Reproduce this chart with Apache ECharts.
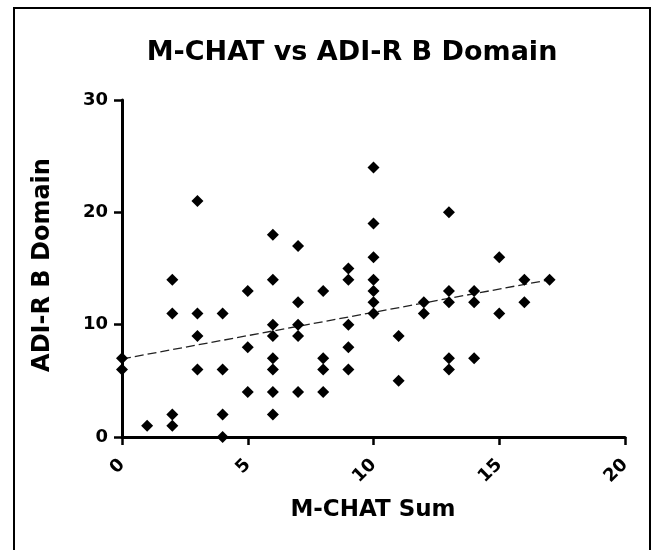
<!DOCTYPE html>
<html>
<head>
<meta charset="utf-8">
<script src="https://cdn.jsdelivr.net/npm/echarts@6/dist/echarts.min.js"></script>
<style>
  html, body { margin: 0; padding: 0; background: #fff; }
  #chart { width: 655px; height: 550px; }
</style>
</head>
<body>
<div id="chart"></div>
<script>
// 資料：M-CHAT 總分 與 ADI-R B 領域分數（成對）
const mchatSum = [0, 0, 1, 2, 2, 2, 2, 3, 3, 3, 3, 4, 4, 4, 4, 5, 5, 5,
  6, 6, 6, 6, 6, 6, 6, 6, 7, 7, 7, 7, 7, 8, 8, 8, 8, 9, 9, 9, 9, 9,
  10, 10, 10, 10, 10, 10, 10, 11, 11, 12, 12, 13, 13, 13, 13, 13,
  14, 14, 14, 15, 15, 16, 16, 17];
const adiB = [7, 6, 1, 14, 11, 2, 1, 21, 11, 9, 6, 11, 6, 2, 0, 13, 8, 4,
  18, 14, 10, 9, 7, 6, 4, 2, 17, 12, 10, 9, 4, 13, 7, 6, 4, 15, 14, 10, 8, 6,
  24, 19, 16, 14, 13, 12, 11, 9, 5, 12, 11, 20, 13, 12, 7, 6,
  13, 12, 7, 16, 11, 14, 12, 14];
// 回歸線兩端點
const fitX = [0, 17];
const fitY = [6.95, 14.0];
// 座標軸刻度
const xTicks = [0, 5, 10, 15, 20];
const yTicks = [0, 10, 20, 30];

const FONT = "DejaVu Sans";
const chart = echarts.init(document.getElementById("chart"), null, { renderer: "canvas" });

const axisCommon = {
  type: "value",
  axisLine: { show: true, onZero: false, lineStyle: { color: "#000", width: 3 } },
  axisTick: { show: true, length: 8, lineStyle: { color: "#000", width: 2.5 } },
  splitLine: { show: false },
};

chart.setOption({
  animation: false,
  backgroundColor: "#fff",
  grid: { left: 122, right: 30, top: 100, bottom: 113, containLabel: false },
  graphic: [
    {
      type: "rect",
      shape: { x: 14, y: 8, width: 636, height: 548 },
      style: { fill: "none", stroke: "#000", lineWidth: 2 },
      silent: true,
    },
    {
      type: "text",
      x: 352, y: 53,
      style: {
        text: "M-CHAT vs ADI-R B Domain",
        font: `bold 27px "${FONT}"`,
        fill: "#000", textAlign: "center", textVerticalAlign: "middle",
      },
    },
    {
      type: "text",
      x: 373, y: 510,
      style: {
        text: "M-CHAT Sum",
        font: `bold 23px "${FONT}"`,
        fill: "#000", textAlign: "center", textVerticalAlign: "middle",
      },
    },
    {
      type: "text",
      x: 43, y: 265, rotation: Math.PI / 2,
      style: {
        text: "ADI-R B Domain",
        font: `bold 24px "${FONT}"`,
        fill: "#000", textAlign: "center", textVerticalAlign: "middle",
      },
    },
  ],
  xAxis: {
    ...axisCommon,
    min: xTicks[0],
    max: xTicks[xTicks.length - 1],
    interval: xTicks[1] - xTicks[0],
    axisLabel: {
      rotate: 45, margin: 25,
      color: "#000", fontFamily: FONT, fontWeight: "bold", fontSize: 18,
    },
  },
  yAxis: {
    ...axisCommon,
    min: yTicks[0],
    max: yTicks[yTicks.length - 1],
    interval: yTicks[1] - yTicks[0],
    axisLabel: {
      margin: 14,
      color: "#000", fontFamily: FONT, fontWeight: "bold", fontSize: 18,
    },
  },
  series: [
    {
      type: "line",
      data: fitX.map((x, i) => [x, fitY[i]]),
      symbol: "none",
      lineStyle: { color: "#222", width: 1.3, type: [9, 4] },
      z: 2,
    },
    {
      type: "scatter",
      data: mchatSum.map((x, i) => [x, adiB[i]]),
      symbol: "diamond",
      symbolSize: [12, 12],
      itemStyle: { color: "#000", opacity: 1 },
      clip: false,
      z: 3,
    },
  ],
});
</script>
</body>
</html>
